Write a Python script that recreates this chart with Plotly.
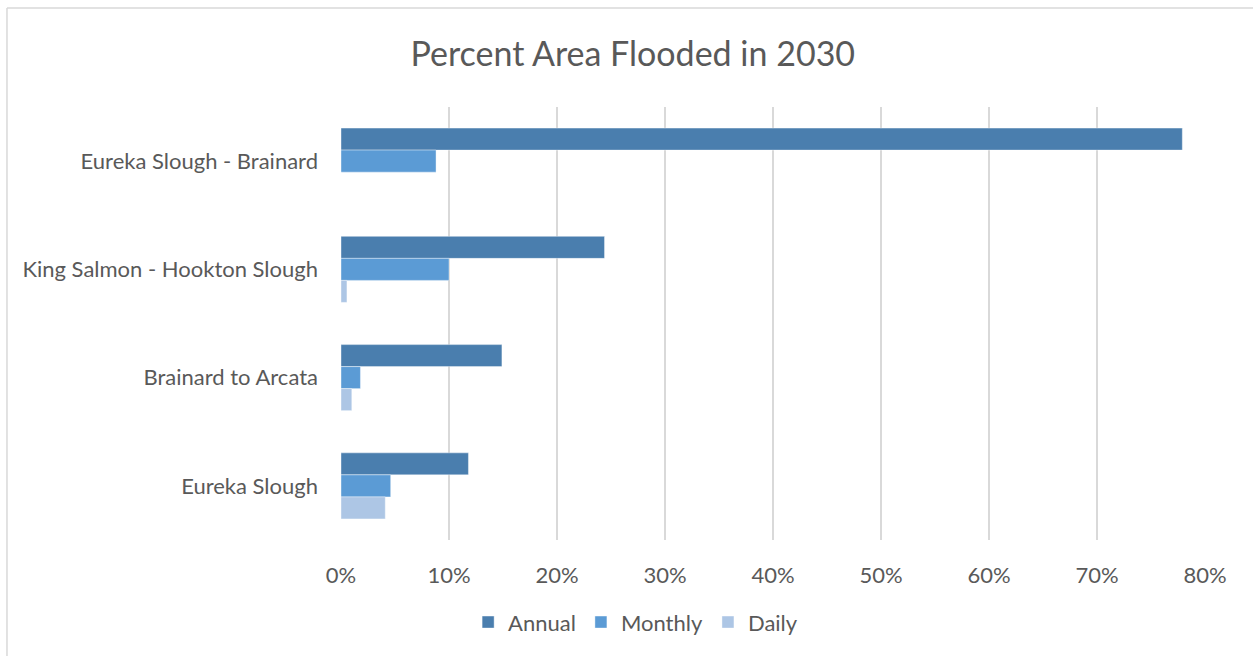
import plotly.graph_objects as go

categories = ["Eureka Slough - Brainard", "King Salmon - Hookton Slough", "Brainard to Arcata", "Eureka Slough"]
annual = [0.779, 0.244, 0.149, 0.118]
monthly = [0.088, 0.100, 0.018, 0.046]
daily = [0.0, 0.0055, 0.010, 0.041]
series_names = ["Annual", "Monthly", "Daily"]
colors = ["#4a7eae", "#5b9bd5", "#adc6e5"]
tick_vals = [0, 0.1, 0.2, 0.3, 0.4, 0.5, 0.6, 0.7, 0.8]
tick_text = ["0%", "10%", "20%", "30%", "40%", "50%", "60%", "70%", "80%"]

fig = go.Figure()
for name, vals, c in zip(series_names, [annual, monthly, daily], colors):
    fig.add_trace(go.Bar(
        y=categories, x=vals, name=name, orientation="h",
        marker=dict(color=c, line=dict(color="rgba(255,255,255,0.4)", width=1)),
    ))

font_family = "Lato, Open Sans, sans-serif"
fig.update_layout(
    width=1253, height=656,
    paper_bgcolor="white", plot_bgcolor="white",
    margin=dict(l=341, r=48, t=107, b=116, autoexpand=False),
    barmode="group", bargap=0.39, bargroupgap=0,
    title=dict(text="Percent Area Flooded in 2030", x=0.505, xanchor="center",
               y=0.918, yanchor="middle",
               font=dict(family=font_family, size=34, color="#595959")),
    font=dict(family=font_family, size=22, color="#595959"),
    xaxis=dict(range=[0, 0.8], tickvals=tick_vals, ticktext=tick_text, tickangle=0,
               showgrid=True, gridcolor="#d9d9d9", gridwidth=1.5,
               zeroline=False, showline=False, ticks="", ticklabelstandoff=20,
               tickfont=dict(size=22, color="#595959")),
    yaxis=dict(autorange="reversed", showgrid=False, zeroline=False,
               showline=False, ticks="", ticklabelstandoff=22,
               tickfont=dict(size=22, color="#595959")),
    legend=dict(orientation="h", x=0.341, xanchor="center",
                y=-0.19, yanchor="middle",
                font=dict(size=22, color="#595959"), traceorder="normal"),
    shapes=[
        dict(type="line", xref="paper", yref="paper", x0=-0.3866, x1=1.06, y0=1.2286, y1=1.2286,
             line=dict(color="#d9d9d9", width=1.5)),
        dict(type="line", xref="paper", yref="paper", x0=-0.3866, x1=-0.3866, y0=-0.3, y1=1.2286,
             line=dict(color="#d9d9d9", width=1.5)),
    ],
)

fig.write_html("out.html")
